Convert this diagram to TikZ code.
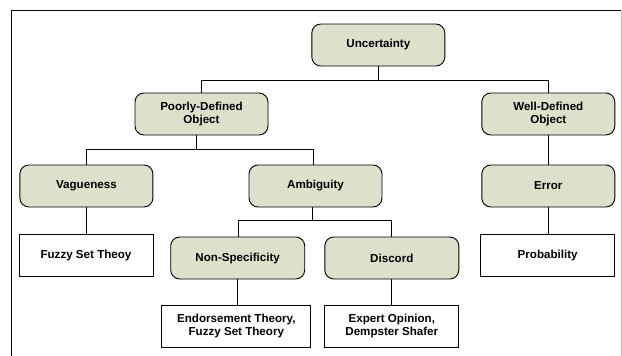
\documentclass[tikz,border=0pt]{standalone}
\usepackage{fontspec}
\setmainfont{Liberation Sans}
\definecolor{boxfill}{RGB}{221,224,203}
\definecolor{framegray}{RGB}{190,190,190}
\begin{document}
\begin{tikzpicture}[x=1pt,y=-1pt,
  catbox/.style={draw=black,line width=0.9pt,fill=boxfill,rounded corners=9pt,
    minimum width=133pt,minimum height=42pt,align=center,inner sep=2pt,
    font=\fontsize{11.6}{13.5}\selectfont\bfseries},
  methbox/.style={draw=black,line width=0.9pt,fill=white,
    minimum width=134pt,minimum height=42pt,align=center,inner sep=2pt,
    font=\fontsize{11.6}{13.5}\selectfont\bfseries},
  link/.style={draw=black,line width=0.8pt}]
\useasboundingbox (0,0) rectangle (622,356);
\fill[white] (0,0) rectangle (622,356);
% frame
\draw[line width=1.6pt] (11.5,356) -- (11.5,10.5) -- (621,10.5);
\draw[framegray,line width=0.8pt] (621,11) -- (621,356);
% nodes
\node[catbox] (unc) at (378.3,45) {Uncertainty};
\node[catbox] (poor) at (201.5,114) {Poorly-Defined\\Object};
\node[catbox] (well) at (548.3,114) {Well-Defined\\Object};
\node[catbox] (vag) at (86.4,186) {Vagueness};
\node[catbox] (amb) at (315.5,186) {Ambiguity};
\node[catbox] (err) at (548.3,186) {Error};
\node[methbox] (fst) at (86,255) {Fuzzy Set Theoy};
\node[methbox] (prob) at (547.7,255) {Probability};
\node[catbox,minimum width=134pt] (ns) at (237.7,258) {Non-Specificity};
\node[catbox,minimum width=134pt] (dis) at (391.8,258) {Discord};
\node[methbox,minimum width=149pt] (end) at (236.3,326) {Endorsement Theory,\\Fuzzy Set Theory};
\node[methbox] (exp) at (391.8,326) {Expert Opinion,\\Dempster Shafer};
% connectors
\draw[link] (unc.south) -- ++(0,14) coordinate (j1);
\draw[link] (poor.north) |- (j1) -| (well.north);
\draw[link] ([xshift=-5pt]poor.south) -- ++(0,14) coordinate (j2);
\draw[link] (vag.north) |- (j2) -| ([xshift=-2pt]amb.north);
\draw[link] ([xshift=-3pt]amb.south) -- ++(0,13) coordinate (j3);
\draw[link] ([xshift=1pt]ns.north) |- (j3) -| (dis.north);
\draw[link] (vag.south) -- (vag.south |- fst.north);
\draw[link] (err.south) -- (err.south |- prob.north);
\draw[link] (well.south) -- (err.north);
\draw[link] (ns.south) -- (ns.south |- end.north);
\draw[link] (dis.south) -- (exp.north);
\end{tikzpicture}
\end{document}
